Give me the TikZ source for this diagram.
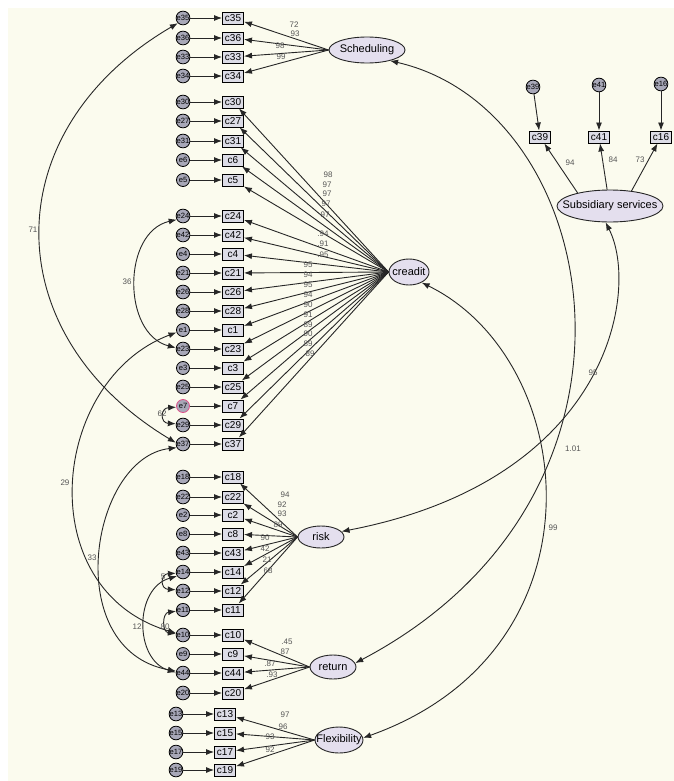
\documentclass[tikz,border=0pt]{standalone}
\usepackage{fontspec}
\setmainfont{Liberation Sans}
\usetikzlibrary{arrows.meta,shapes.geometric}
\definecolor{bgc}{HTML}{FBFBEE}
\definecolor{boxc}{HTML}{DCDCE6}
\definecolor{latc}{HTML}{E4DFEE}
\definecolor{errc}{HTML}{A8A8B8}
\definecolor{numc}{HTML}{555555}
\definecolor{selc}{HTML}{E0508A}
\begin{document}
\begin{tikzpicture}[x=1pt,y=-1pt,
  obs/.style={draw=black, fill=boxc, line width=0.9pt, inner sep=0.8pt, minimum width=21pt, minimum height=12pt, font=\fontsize{10}{10}\selectfont},
  err/.style={circle, draw=black, fill=errc, line width=0.8pt, inner sep=0pt, minimum size=13pt, font=\fontsize{7.6}{8}\selectfont},
  lat/.style={ellipse, draw=black!85, fill=latc, line width=0.9pt, inner sep=0pt},
  latlab/.style={font=\fontsize{11}{12}\selectfont, inner sep=0pt},
  tip/.style={-{Latex[length=8pt,width=6pt]}},
  dtip/.style={{Latex[length=8pt,width=6pt]}-{Latex[length=8pt,width=6pt]}},
  ln/.style={line width=0.9pt, draw=black!85},
  num/.style={text=numc, font=\fontsize{8}{8}\selectfont, inner sep=0pt},
]
\fill[white] (0,0) rectangle (674,781);
\fill[bgc] (8,8) rectangle (674,781);
\useasboundingbox (0,0) rectangle (674,781);

% latent variables
\node[lat, minimum width=76pt, minimum height=26pt, label={[latlab]center:Scheduling}] (sch) at (367,50) {};
\node[lat, minimum width=40pt, minimum height=26pt, label={[latlab]center:creadit}] (cr) at (409,272) {};
\node[lat, minimum width=106pt, minimum height=32pt, label={[latlab]center:Subsidiary services}] (ss) at (610,206) {};
\node[lat, minimum width=46pt, minimum height=22pt, label={[latlab]center:risk}] (rk) at (321,537) {};
\node[lat, minimum width=46pt, minimum height=24pt, label={[latlab]center:return}] (rt) at (333,667) {};
\node[lat, minimum width=48pt, minimum height=26pt, label={[latlab]center:Flexibility}] (fx) at (339,740) {};

% indicators and errors, left column
\foreach \n/\y in {35/18,36/38,33/57,34/76,30/102,27/121,31/141,6/160,5/180,24/216,42/235,4/254,21/273,26/292,28/311,1/330,23/349,3/368,25/387,29/425,37/444,18/477,22/497,2/515,8/534,43/553,14/572,12/591,11/610,10/635,9/654,44/673,20/693}{
  \node[obs] (c\n) at (233,\y) {c\n};
  \node[err] (e\n) at (183,\y) {e\n};
  \draw[ln,tip] (e\n) -- (c\n);
}
\node[obs] (c7) at (233,406) {c7};
\node[err, draw=selc] (e7) at (183,406) {e7};
\draw[ln,tip] (e7) -- (c7);
\foreach \n/\y in {13/714,15/733,17/752,19/770}{
  \node[obs] (c\n) at (225,\y) {c\n};
  \node[err] (e\n) at (176,\y) {e\n};
  \draw[ln,tip] (e\n) -- (c\n);
}
% subsidiary indicators
\foreach \n/\x/\ex/\ey in {39/540/533/87,41/599/599/85,16/661/661/84}{
  \node[obs] (c\n) at (\x,137) {c\n};
  \node[err] (e\n) at (\ex,\ey) {e\n};
  \draw[ln,tip] (e\n) -- (c\n);
}

% loadings
\foreach \c/\v/\lx/\ly [count=\i] in {35/72/294/25,36/93/295/34,33/98/280/46,34/99/281/57}{
  \draw[ln,tip] (sch.west) -- (c\c);
  \node[num] (lsch\i) at (\lx,\ly) {\v};
}
\foreach \c/\v/\lx/\ly [count=\i] in {30/98/328/175,27/97/327/185,31/97/327/194,6/97/326/204,5/97/325/215,24/.94/323/234,42/.91/323/244,4/.95/323/255,21/95/308/265,26/94/308/275,28/95/308/285,1/94/308/295,23/90/308/305,3/91/308/315,25/89/308/325,7/90/308/334,29/89/308/344,37/89/310/354}{
  \draw[ln,tip] (cr.west) -- (c\c);
  \node[num] (lcr\i) at (\lx,\ly) {\v};
}
\foreach \c/\v/\lx/\ly [count=\i] in {18/94/285/495,22/92/282/505,2/93/282/514,8/89/278/525,43/90/265/538,14/42/265/549,12/21/267/560,11/68/268/571}{
  \draw[ln,tip] (rk.west) -- (c\c);
  \node[num] (lrk\i) at (\lx,\ly) {\v};
}
\foreach \c/\v/\lx/\ly [count=\i] in {10/.45/287/642,9/87/285/652,44/.87/270/664,20/.93/272/675}{
  \draw[ln,tip] (rt.west) -- (c\c);
  \node[num] (lrt\i) at (\lx,\ly) {\v};
}
\foreach \c/\v/\lx/\ly [count=\i] in {13/97/285/715,15/96/283/727,17/93/270/737,19/92/270/750}{
  \draw[ln,tip] (fx.west) -- (c\c);
  \node[num] (lfx\i) at (\lx,\ly) {\v};
}
\draw[ln,tip] (ss.158) -- (c39);
\draw[ln,tip] (ss.100) -- (c41);
\draw[ln,tip] (ss.35) -- (c16);
\node[num] (lss1) at (570,163) {94};
\node[num] (lss2) at (613,160) {84};
\node[num] (lss3) at (640,160) {73};

% covariances, left
\draw[ln,dtip] (e35.225) .. controls (-5,130) and (-5,334) .. (e37.170);
\node[num] (k1) at (33,230) {71};
\draw[ln,dtip] (e24.210) .. controls (122,232) and (122,334) .. (e23.170);
\node[num] (k2) at (127,282) {36};
\draw[ln,dtip] (e7.190) .. controls (160,408) and (160,423) .. (e29.170);
\node[num] (k3) at (162,414) {62};
\draw[ln,dtip] (e1.200) .. controls (50,380) and (30,590) .. (e10.165);
\node[num] (k4) at (65,483) {29};
\draw[ln,dtip] (e37.210) .. controls (90,458) and (60,650) .. (e44.165);
\node[num] (k5) at (92,558) {33};
\draw[ln,dtip] (e14.190) .. controls (160,574) and (160,589) .. (e12.170);
\node[num] (k6) at (163,577) {5};
\draw[ln,dtip] (e14.215) .. controls (134,588) and (134,660) .. (e44.175);
\node[num] (k7) at (137,627) {12};
\draw[ln,dtip] (e11.190) .. controls (162,613) and (162,632) .. (e10.170);
\node[num] (k8) at (164,627) {.80};

% covariances, right
\draw[ln,dtip] (sch.-25) .. controls (605,110) and (675,495) .. (rt.10);
\node[num] (k9) at (573,449) {1.01};
\draw[ln,dtip] (ss.255) .. controls (640,290) and (610,480) .. (rk.15);
\node[num] (k10) at (593,373) {95};
\draw[ln,dtip] (cr.-40) .. controls (580,360) and (610,650) .. (fx.5);
\node[num] (k11) at (553,528) {99};
\end{tikzpicture}
\end{document}
